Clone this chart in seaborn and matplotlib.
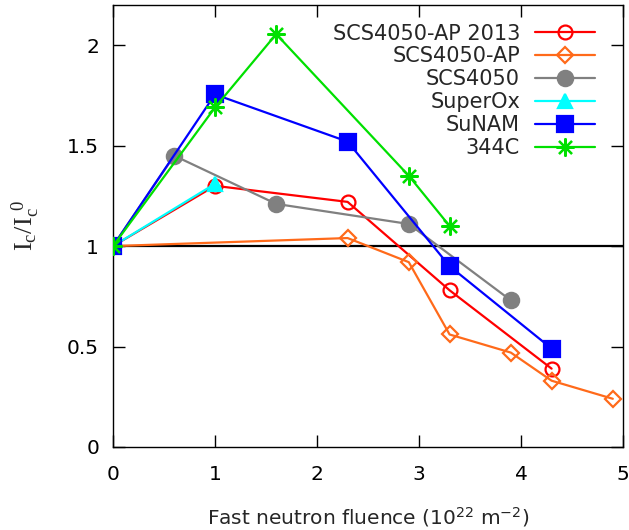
import matplotlib
matplotlib.use("Agg")
import matplotlib.pyplot as plt
import seaborn as sns
import pandas as pd

# data
ap2013_x = [0, 1, 2.3, 3.3, 4.3]
ap2013_y = [1.0, 1.30, 1.22, 0.78, 0.39]
ap_x = [0, 2.3, 2.9, 3.3, 3.9, 4.3, 4.9]
ap_y = [1.0, 1.04, 0.92, 0.56, 0.47, 0.33, 0.24]
scs_x = [0, 0.6, 1.6, 2.9, 3.9]
scs_y = [1.0, 1.45, 1.21, 1.11, 0.73]
sox_x = [0, 1]
sox_y = [1.0, 1.31]
sunam_x = [0, 1, 2.3, 3.3, 4.3]
sunam_y = [1.0, 1.755, 1.52, 0.90, 0.49]
c344_x = [0, 1, 1.6, 2.9, 3.3]
c344_y = [1.0, 1.69, 2.055, 1.35, 1.10]

labels = ["SCS4050-AP 2013", "SCS4050-AP", "SCS4050", "SuperOx", "SuNAM", "344C"]
xs = [ap2013_x, ap_x, scs_x, sox_x, sunam_x, c344_x]
ys = [ap2013_y, ap_y, scs_y, sox_y, sunam_y, c344_y]
colors = ["#ff0000", "#ff6a1a", "#808080", "#00ffff", "#0000ff", "#00e000"]
markers = ["o", "D", "o", "^", "s", (8, 2, 0)]
msizes = [10, 8, 11, 10, 11, 13]
filled = [False, False, True, True, True, True]

sns.set_style("ticks")
plt.rcParams["font.family"] = ["DejaVu Sans"]

fig = plt.figure(figsize=(6.29, 5.30), dpi=100)
ax = fig.add_axes([113/629, 1-447/530, 510/629, 442/530])

ax.axhline(1.0, color="black", lw=1.6, zorder=1)

for lab, x, y, c, m, ms, f in zip(labels, xs, ys, colors, markers, msizes, filled):
    df = pd.DataFrame({"x": x, "y": y})
    kw = dict(markerfacecolor=c if f else "none", markeredgecolor=c,
              markersize=ms, markeredgewidth=1.6)
    sns.lineplot(data=df, x="x", y="y", ax=ax, color=c, marker=m, lw=1.6,
                 sort=False, label=lab, zorder=3, **kw)

ax.set_xlim(0, 5)
ax.set_ylim(0, 2.2)
ax.set_xticks([0, 1, 2, 3, 4, 5])
ax.set_xticklabels(["0", "1", "2", "3", "4", "5"])
ax.set_yticks([0, 0.5, 1, 1.5, 2])
ax.set_yticklabels(["0", "0.5", "1", "1.5", "2"])
ax.tick_params(direction="in", length=8.5, width=1, top=True, right=True,
               labelsize=14.5, colors="black")
ax.tick_params(axis="x", pad=13)
ax.tick_params(axis="y", pad=10)
for s in ax.spines.values():
    s.set_linewidth(1)
    s.set_color("black")

ax.set_xlabel(r"Fast neutron fluence (10$^{22}$ m$^{-2}$)", fontsize=14.5, labelpad=15)
ax.set_ylabel(r"$\mathregular{I_c/I_c^{\ 0}}$", fontsize=19,
              family="Liberation Serif", labelpad=18)

leg = ax.legend(loc="upper right", bbox_to_anchor=((595-113)/510, 0.958),
                frameon=False, markerfirst=False, fontsize=15,
                handlelength=2.9, handletextpad=0.7, labelspacing=0.14,
                borderpad=0, borderaxespad=0)

fig.savefig("out.png", dpi=100)
